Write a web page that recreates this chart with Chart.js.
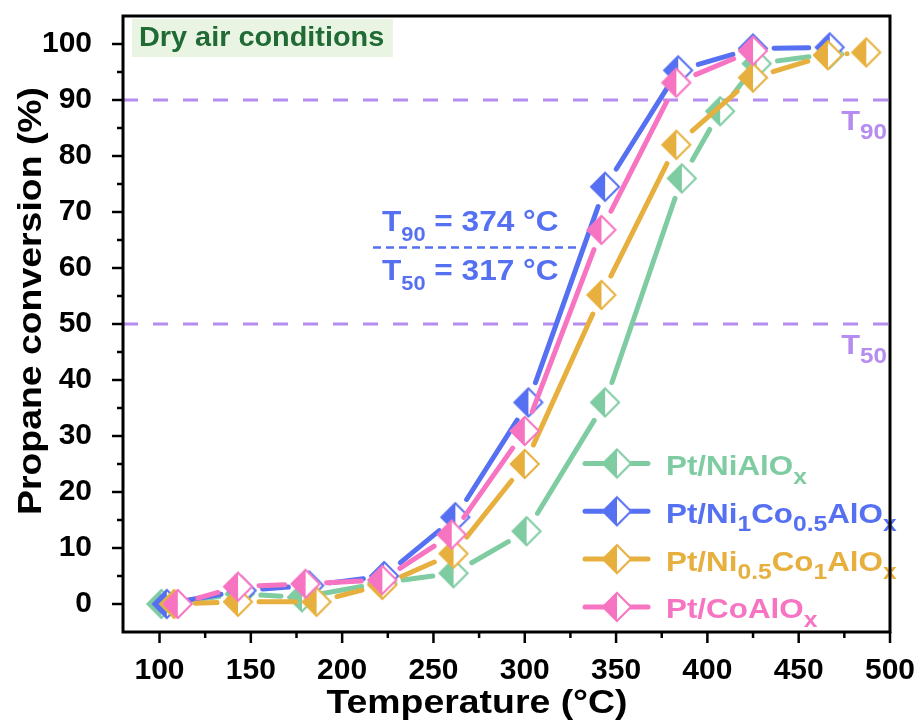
<!DOCTYPE html>
<html><head><meta charset="utf-8">
<script src="https://cdn.jsdelivr.net/npm/chart.js"></script>
<style>html,body{margin:0;padding:0;background:#fff;}#wrap{position:relative;width:922px;height:726px;}</style>
</head><body><div id="wrap"><canvas id="c" width="922" height="726"></canvas></div>
<script>
// ---- data ----
const seriesLabels = ['Pt/NiAlO_{x}', 'Pt/Ni_{1}Co_{0.5}AlO_{x}', 'Pt/Ni_{0.5}Co_{1}AlO_{x}', 'Pt/CoAlO_{x}'];
const tempNiAlOx = [101, 144, 178, 222, 261, 301, 344, 386, 407, 427, 467];
const convNiAlOx = [0, 1.8, 1.2, 3.8, 5.5, 13, 36, 76, 88, 96.5, 98.2];
const tempNi1Co05 = [104, 145, 182, 223, 262, 302, 344, 384, 425, 467];
const convNi1Co05 = [0, 2.4, 3.3, 5.0, 15.5, 36, 74.5, 95.3, 99.2, 99.4];
const tempNi05Co1 = [108, 143, 186, 222, 261, 300, 342, 383, 425, 466, 487];
const convNi05Co1 = [0, 0.4, 0.4, 3.4, 9, 25, 55.2, 82, 94, 98, 98.5];
const tempCoAlOx = [110, 143, 180, 222, 260, 300, 342, 383, 425];
const convCoAlOx = [0, 3.1, 3.6, 4.3, 12.4, 30.9, 66.8, 93.1, 98.8];
const xTickValues = [100, 150, 200, 250, 300, 350, 400, 450, 500];
const yTickValues = [0, 10, 20, 30, 40, 50, 60, 70, 80, 90, 100];
const thresholdValues = [90, 50];
const thresholdLabels = ['T_{90}', 'T_{50}'];
const annotationLines = ['T_{90} = 374 °C', 'T_{50} = 317 °C'];
const conditionLabel = 'Dry air conditions';
const xTitle = 'Temperature (°C)';
const yTitle = 'Propane conversion (%)';

// ---- styles ----
const FONT = '"Liberation Sans", Arial, Helvetica, sans-serif';
const colors = ['#7fcca2', '#5670f2', '#e7b03e', '#f674c2'];
const purple = '#b58cf0';
const R = 15;

function parseRich(s) {
  const parts = []; const re = /_\{([^}]*)\}/g; let last = 0, m;
  while ((m = re.exec(s))) { if (m.index > last) parts.push({t: s.slice(last, m.index)}); parts.push({t: m[1], sub: true}); last = re.lastIndex; }
  if (last < s.length) parts.push({t: s.slice(last)});
  return parts;
}
const plain = s => s.replace(/_\{([^}]*)\}/g, '$1');

function richWidth(ctx, parts, o) {
  let w = 0;
  for (const p of parts) { ctx.font = 'bold ' + (p.sub ? o.sub : o.size) + 'px ' + FONT; w += ctx.measureText(p.t).width * o.sx; }
  return w;
}
function drawRich(ctx, x, y, text, o) {
  const parts = parseRich(text);
  if (o.align === 'right') x -= richWidth(ctx, parts, o);
  ctx.save(); ctx.fillStyle = o.color; ctx.textBaseline = 'alphabetic'; ctx.textAlign = 'left';
  for (const p of parts) {
    ctx.font = 'bold ' + (p.sub ? o.sub : o.size) + 'px ' + FONT;
    const w = ctx.measureText(p.t).width * o.sx;
    ctx.save(); ctx.translate(x, y + (p.sub ? o.dy : 0)); ctx.scale(o.sx, 1); ctx.fillText(p.t, 0, 0); ctx.restore();
    x += w;
  }
  ctx.restore();
}

function makeDiamond(color, r) {
  const s = 2 * r + 4, c = document.createElement('canvas'); c.width = s; c.height = s;
  const g = c.getContext('2d'), m = s / 2;
  const path = (rr) => { g.beginPath(); g.moveTo(m, m - rr); g.lineTo(m + rr, m); g.lineTo(m, m + rr); g.lineTo(m - rr, m); g.closePath(); };
  path(r); g.fillStyle = '#fff'; g.fill();
  g.beginPath(); g.moveTo(m, m - r); g.lineTo(m, m + r); g.lineTo(m - r, m); g.closePath(); g.fillStyle = color; g.fill();
  path(r - 1); g.strokeStyle = color; g.lineWidth = 2; g.stroke();
  return c;
}
const markers = colors.map(c => makeDiamond(c, R));

const temps = [tempNiAlOx, tempNi1Co05, tempNi05Co1, tempCoAlOx];
const convs = [convNiAlOx, convNi1Co05, convNi05Co1, convCoAlOx];
const orders = [3, 2, 1, 0];
const datasets = seriesLabels.map((lab, i) => ({
  label: plain(lab),
  data: temps[i].map((t, j) => ({x: t, y: convs[i][j]})),
  showLine: false,
  pointStyle: markers[i],
  pointRadius: R,
  borderColor: colors[i],
  backgroundColor: colors[i],
  order: orders[i],
  clip: false
}));

const GAP = 21;
const gapLines = {
  id: 'gapLines',
  beforeDatasetDraw(chart, args) {
    const ctx = chart.ctx, pts = args.meta.data, col = colors[args.index];
    ctx.save(); ctx.strokeStyle = col; ctx.fillStyle = col; ctx.lineWidth = 5; ctx.lineCap = 'round';
    for (let i = 0; i < pts.length - 1; i++) {
      const p = pts[i], q = pts[i + 1];
      const dx = q.x - p.x, dy = q.y - p.y, L = Math.hypot(dx, dy);
      if (L <= 2 * GAP) {
        if (L > 30) { ctx.beginPath(); ctx.arc((p.x + q.x) / 2, (p.y + q.y) / 2, 2.5, 0, 2 * Math.PI); ctx.fill(); }
        continue;
      }
      const ux = dx / L, uy = dy / L;
      ctx.beginPath(); ctx.moveTo(p.x + ux * GAP, p.y + uy * GAP); ctx.lineTo(q.x - ux * GAP, q.y - uy * GAP); ctx.stroke();
    }
    ctx.restore();
  }
};

const decor = {
  id: 'decor',
  beforeDatasetsDraw(chart) {
    const ctx = chart.ctx, a = chart.chartArea, ys = chart.scales.y;
    ctx.save(); ctx.strokeStyle = purple; ctx.lineWidth = 3; ctx.setLineDash([15, 15]);
    thresholdValues.forEach(v => { const y = ys.getPixelForValue(v); ctx.beginPath(); ctx.moveTo(a.left, y); ctx.lineTo(a.right, y); ctx.stroke(); });
    ctx.restore();
    thresholdLabels.forEach((t, i) => {
      const y = ys.getPixelForValue(thresholdValues[i]);
      drawRich(ctx, a.right - 3, y + 30, t, {size: 28, sub: 22, dy: 9, sx: 1.1, color: purple, align: 'right'});
    });
    ctx.save(); ctx.fillStyle = '#e9f5e2'; ctx.fillRect(132, 19, 261, 38); ctx.restore();
    drawRich(ctx, 139, 46, conditionLabel, {size: 28, sub: 20, dy: 8, sx: 1.03, color: '#1f6a35'});
    drawRich(ctx, 382, 231, annotationLines[0], {size: 29, sub: 20, dy: 9.5, sx: 1.09, color: colors[1]});
    drawRich(ctx, 382, 280, annotationLines[1], {size: 29, sub: 20, dy: 9.5, sx: 1.09, color: colors[1]});
    ctx.save(); ctx.strokeStyle = colors[1]; ctx.lineWidth = 2.5; ctx.setLineDash([8, 5]);
    ctx.beginPath(); ctx.moveTo(373, 247.5); ctx.lineTo(582, 247.5); ctx.stroke(); ctx.restore();
  },
  afterDatasetsDraw(chart) {
    const ctx = chart.ctx;
    seriesLabels.forEach((lab, i) => {
      const cy = 463.5 + i * 47.8;
      ctx.save(); ctx.strokeStyle = colors[i]; ctx.lineWidth = 5; ctx.lineCap = 'round';
      ctx.beginPath(); ctx.moveTo(585, cy); ctx.lineTo(648, cy); ctx.stroke(); ctx.restore();
      ctx.drawImage(markers[i], 617 - markers[i].width / 2, cy - markers[i].height / 2);
      drawRich(ctx, 666, cy + 11.5, lab, {size: 28, sub: 22, dy: 8.5, sx: 1.12, color: colors[i]});
    });
  },
  afterDraw(chart) {
    const ctx = chart.ctx, a = chart.chartArea, xs = chart.scales.x, ys = chart.scales.y;
    ctx.save(); ctx.strokeStyle = '#000'; ctx.lineWidth = 3;
    ctx.strokeRect(a.left, a.top, a.right - a.left, a.bottom - a.top);
    ctx.lineWidth = 2.5;
    for (let v = 0; v <= 100; v += 5) {
      const y = ys.getPixelForValue(v), len = v % 10 === 0 ? 11 : 6;
      ctx.beginPath(); ctx.moveTo(a.left - len, y); ctx.lineTo(a.left, y); ctx.stroke();
    }
    for (let v = 100; v <= 500; v += 25) {
      const x = xs.getPixelForValue(v), len = v % 50 === 0 ? 11 : 6;
      ctx.beginPath(); ctx.moveTo(x, a.bottom); ctx.lineTo(x, a.bottom + len); ctx.stroke();
    }
    ctx.restore();
    ctx.save(); ctx.fillStyle = '#000'; ctx.font = 'bold 34px ' + FONT; ctx.textAlign = 'center'; ctx.textBaseline = 'alphabetic';
    ctx.save(); ctx.translate(477, 713); ctx.scale(1.1, 1); ctx.fillText(xTitle, 0, 0); ctx.restore();
    ctx.save(); ctx.translate(41, 301); ctx.rotate(-Math.PI / 2); ctx.scale(1.1, 1); ctx.fillText(yTitle, 0, 0); ctx.restore();
    ctx.restore();
  }
};

new Chart(document.getElementById('c'), {
  type: 'scatter',
  data: {datasets},
  plugins: [gapLines, decor],
  options: {
    responsive: false, animation: false, events: [],
    layout: {padding: {left: 0, right: 32, top: 14, bottom: 0}},
    plugins: {legend: {display: false}, tooltip: {enabled: false}},
    scales: {
      x: {
        type: 'linear', min: 80, max: 500,
        afterBuildTicks: s => { s.ticks = xTickValues.map(v => ({value: v})); },
        afterFit: s => { s.height = 94; s.paddingLeft = 0; s.paddingRight = 0; },
        grid: {display: false}, border: {display: false},
        ticks: {color: '#000', padding: 13, maxRotation: 0, autoSkip: false, font: {family: FONT, size: 30, weight: 'bold'}}
      },
      y: {
        type: 'linear', min: -5, max: 105,
        afterBuildTicks: s => { s.ticks = yTickValues.map(v => ({value: v})); },
        afterFit: s => { s.width = 123; s.paddingTop = 0; s.paddingBottom = 0; },
        grid: {display: false}, border: {display: false},
        ticks: {color: '#000', padding: 23, autoSkip: false, font: {family: FONT, size: 30, weight: 'bold'}}
      }
    }
  }
});
</script></body></html>
